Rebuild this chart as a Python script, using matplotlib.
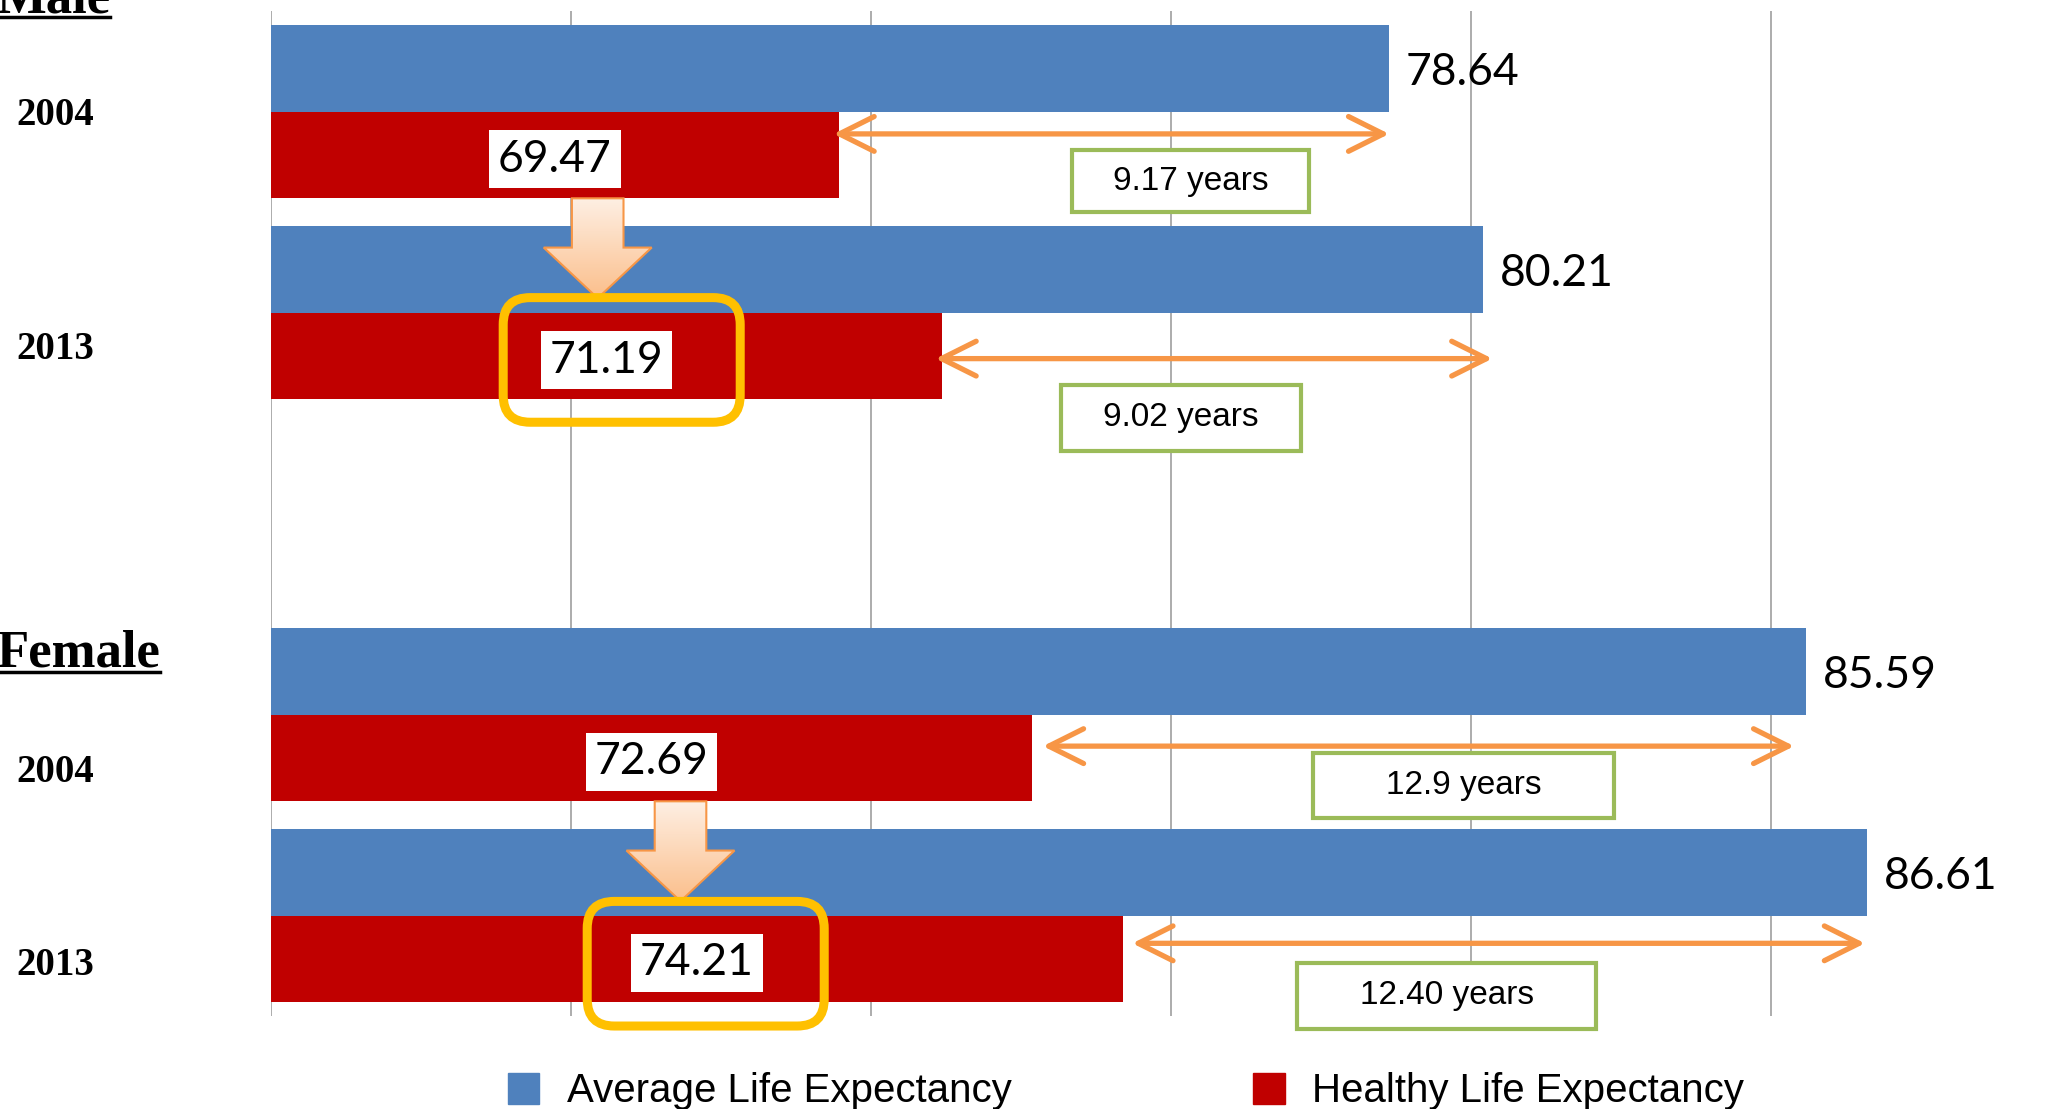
import numpy as np
import matplotlib.pyplot as plt
from matplotlib.patches import Rectangle, FancyBboxPatch, Polygon, Patch
from matplotlib.lines import Line2D
from matplotlib.colors import LinearSegmentedColormap

# data
row_pos = [0, 1, 3, 4]          # slot 2 is the blank gap between the groups
year_labels = ['2004', '2013', '2004', '2013']
group_labels = ['Male', 'Female']
average_le = [78.64, 80.21, 85.59, 86.61]
healthy_le = [69.47, 71.19, 72.69, 74.21]
gap_labels = ['9.17 years', '9.02 years', '12.9 years', '12.40 years']
x_ticks = [60, 65, 70, 75, 80, 85]

BLUE = '#4F81BD'
RED = '#C00000'
ORANGE = '#F79646'
GREEN = '#9BBB59'
GOLD = '#FFC000'
H = 0.431  # bar height

fig = plt.figure(figsize=(20.6, 11.09), dpi=100)
ax = fig.add_axes([0.1314, 0.0837, 0.8686, 0.9062])

pos = np.array(row_pos, dtype=float)
ax.barh(pos - H / 2, average_le, height=H, color=BLUE, zorder=2)
ax.barh(pos + H / 2, healthy_le, height=H, color=RED, zorder=2)

x_min = x_ticks[0]
for p, v in zip(pos, average_le):
    ax.annotate(f'{v:.2f}', xy=(v, p - H / 2), xytext=(12, 0), textcoords='offset points',
                ha='left', va='center_baseline', fontsize=32, family='Lato', zorder=8)
for p, v in zip(pos, healthy_le):
    ax.text((x_min + v) / 2, p + H / 2, f'{v:.2f}', ha='center', va='center_baseline',
            fontsize=32, family='Lato', zorder=9,
            bbox=dict(boxstyle='square,pad=0.2', fc='white', ec='none'))

# orange double arrows for the gap (hand placed in the original)
arrow_dy = [-0.105, 0.013, -0.059, -0.078]
arrow_dx0 = [-0.09, -0.11, 0.18, 0.15]
arrow_dx1 = [0.0, 0.15, -0.2, -0.04]
for p, a, hl, dy, d0, d1 in zip(pos, average_le, healthy_le, arrow_dy, arrow_dx0, arrow_dx1):
    y = p + H / 2 + dy
    ax.annotate('', xy=(a + d1, y), xytext=(hl + d0, y),
                arrowprops=dict(arrowstyle='<->,head_length=2.5,head_width=1.25',
                                color=ORANGE, lw=3.8, shrinkA=0, shrinkB=0,
                                capstyle='round', joinstyle='round'),
                zorder=6)

# green boxes with the gap in years
box_cx = [75.33, 75.17, 79.88, 79.6]
box_cy = [0.346, 1.523, 3.353, 4.399]
box_w = [3.96, 3.99, 5.01, 4.99]
box_h = [0.31, 0.33, 0.32, 0.33]
for cx, cy, w, h, s in zip(box_cx, box_cy, box_w, box_h, gap_labels):
    ax.add_patch(Rectangle((cx - w / 2, cy - h / 2), w, h, fc='white', ec=GREEN,
                           lw=3, zorder=7, clip_on=False))
    ax.text(cx, cy, s, ha='center', va='center', fontsize=24,
            family='Liberation Sans', zorder=8, clip_on=False)

# gold rounded frames around the 2013 healthy values
gold_cx = [65.85, 67.25]
gold_cy = [1.235, 4.239]
for cx, cy in zip(gold_cx, gold_cy):
    w, h = 3.95, 0.62
    ax.add_patch(FancyBboxPatch((cx - w / 2, cy - h / 2), w, h,
                                boxstyle='round,pad=0,rounding_size=0.45',
                                mutation_aspect=0.2985, fc='none', ec=GOLD,
                                lw=6.5, zorder=10, clip_on=False))

# block arrows 2004 -> 2013, gradient filled
peach = LinearSegmentedColormap.from_list('peach', ['#FEEFE3', '#FBBF8C'])
grad = np.linspace(0, 1, 100).reshape(-1, 1)
down_x = [65.45, 66.83]
for xc, p in zip(down_x, [pos[0], pos[2]]):
    top = p + H
    hs = top + 0.245
    tip = top + 0.497
    sw, hw = 0.43, 0.9
    verts = [(xc - sw, top), (xc + sw, top), (xc + sw, hs), (xc + hw, hs),
             (xc, tip), (xc - hw, hs), (xc - sw, hs)]
    poly = Polygon(verts, closed=True, fc='none', ec=ORANGE, lw=1.5, zorder=6)
    ax.add_patch(poly)
    im = ax.imshow(grad, cmap=peach, extent=(xc - hw, xc + hw, tip, top),
                   aspect='auto', zorder=5)
    im.set_clip_path(poly)

ax.set_xlim(60, 89.82)
ax.set_ylim(4.5, -0.5)
ax.set_xticks(x_ticks)
ax.set_yticks([])
ax.grid(axis='x', color='#A6A6A6', lw=1.3)
ax.set_axisbelow(True)
ax.tick_params(length=0, labelbottom=False)
for s in ax.spines.values():
    s.set_visible(False)

# row and group labels
year_y = [0.8957, 0.6851, 0.3037, 0.1297]
for y, s in zip(year_y, year_labels):
    fig.text(0.0078, y, s, ha='left', va='center', fontsize=28,
             family='Liberation Serif', weight='bold')

fig.canvas.draw()
renderer = fig.canvas.get_renderer()
for s, y in zip(group_labels, [0.989, 0.3986]):
    t = fig.text(-0.002, y, s, ha='left', va='baseline', fontsize=38,
                 family='Liberation Serif', weight='bold')
    bb = t.get_window_extent(renderer).transformed(fig.transFigure.inverted())
    fig.add_artist(Line2D([bb.x0, bb.x1], [y - 0.0045, y - 0.0045],
                          color='black', lw=2.5, transform=fig.transFigure))

handles = [Patch(color=BLUE, label='Average Life Expectancy'),
           Patch(color=RED, label='Healthy Life Expectancy')]
fig.legend(handles=handles, loc='center', bbox_to_anchor=(0.5466, 0.016), ncol=2,
           frameon=False, prop={'family': 'Liberation Sans', 'size': 29},
           handlelength=0.79, handleheight=0.79, handletextpad=0.69,
           columnspacing=5.98, borderpad=0, borderaxespad=0)

fig.savefig('out.png', dpi=100)
